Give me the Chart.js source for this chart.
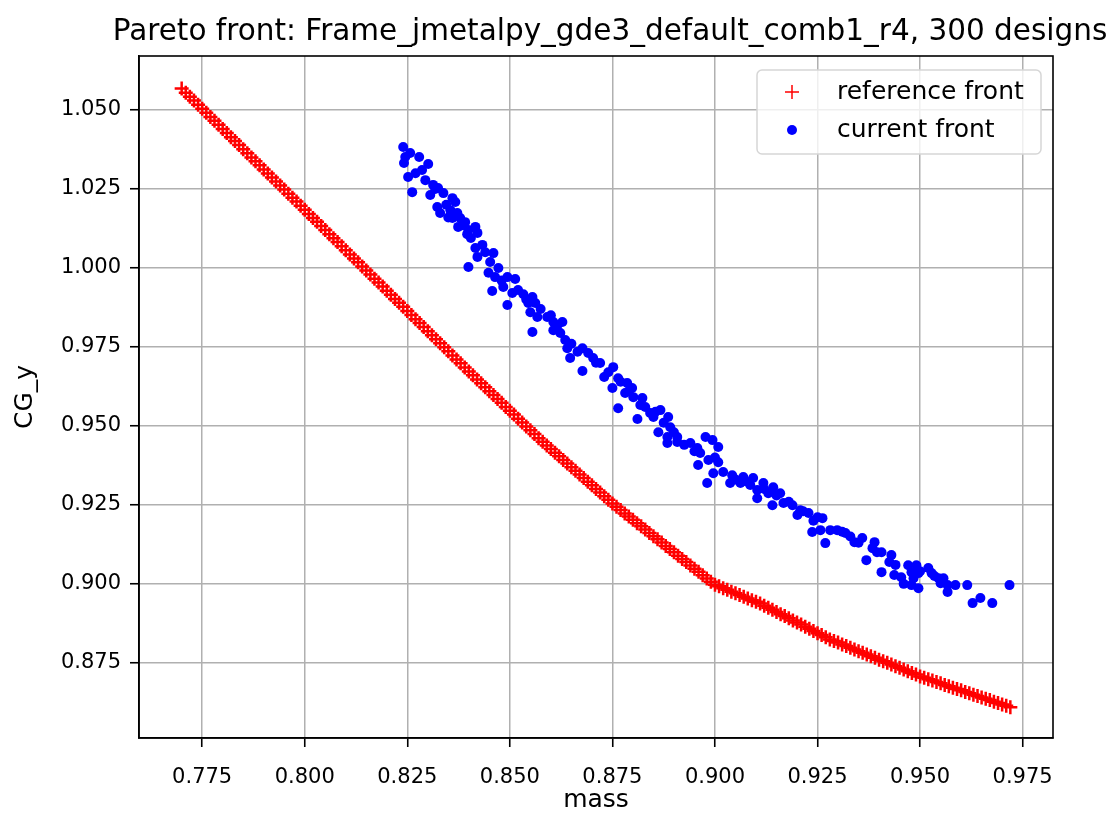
<!DOCTYPE html>
<html>
<head>
<meta charset="utf-8">
<title>Pareto front</title>
<script src="https://cdn.jsdelivr.net/npm/chart.js@4.4.1/dist/chart.umd.min.js"></script>
<style>
  html, body { margin: 0; padding: 0; background: #fff; }
</style>
</head>
<body>
<canvas id="paretoChart" width="1120" height="815"></canvas>
<script>
// labels
const chartTitle = 'Pareto front: Frame_jmetalpy_gde3_default_comb1_r4, 300 designs';
const seriesNames = ['reference front', 'current front'];
const xLabel = 'mass';
const yLabel = 'CG_y';

// axes
const xTickValues = [0.775, 0.800, 0.825, 0.850, 0.875, 0.900, 0.925, 0.950, 0.975];
const yTickValues = [0.875, 0.900, 0.925, 0.950, 0.975, 1.000, 1.025, 1.050];
const xRange = [0.7596, 0.9824];
const yRange = [0.8512, 1.0671];

// reference front: [mass, CG_y]
const referenceFront = [
  [0.770,1.0568],[0.771,1.0555],[0.772,1.0542],[0.773,1.0530],[0.774,1.0517],[0.775,1.0504],
  [0.776,1.0491],[0.777,1.0478],[0.778,1.0466],[0.779,1.0453],[0.780,1.0440],[0.781,1.0427],
  [0.782,1.0414],[0.783,1.0402],[0.784,1.0389],[0.785,1.0376],[0.786,1.0363],[0.787,1.0350],
  [0.788,1.0338],[0.789,1.0325],[0.790,1.0312],[0.791,1.0299],[0.792,1.0286],[0.793,1.0274],
  [0.794,1.0261],[0.795,1.0248],[0.796,1.0235],[0.797,1.0222],[0.798,1.0210],[0.799,1.0197],
  [0.800,1.0184],[0.801,1.0171],[0.802,1.0158],[0.803,1.0146],[0.804,1.0133],[0.805,1.0120],
  [0.806,1.0107],[0.807,1.0094],[0.808,1.0082],[0.809,1.0069],[0.810,1.0056],[0.811,1.0043],
  [0.812,1.0030],[0.813,1.0018],[0.814,1.0005],[0.815,0.9992],[0.816,0.9979],[0.817,0.9966],
  [0.818,0.9954],[0.819,0.9941],[0.820,0.9928],[0.821,0.9915],[0.822,0.9902],[0.823,0.9890],
  [0.824,0.9877],[0.825,0.9864],[0.826,0.9851],[0.827,0.9838],[0.828,0.9826],[0.829,0.9813],
  [0.830,0.9800],[0.831,0.9787],[0.832,0.9774],[0.833,0.9762],[0.834,0.9749],[0.835,0.9736],
  [0.836,0.9723],[0.837,0.9710],[0.838,0.9698],[0.839,0.9685],[0.840,0.9672],[0.841,0.9660],
  [0.842,0.9647],[0.843,0.9635],[0.844,0.9622],[0.845,0.9610],[0.846,0.9598],[0.847,0.9585],
  [0.848,0.9573],[0.849,0.9560],[0.850,0.9548],[0.851,0.9536],[0.852,0.9523],[0.853,0.9511],
  [0.854,0.9498],[0.855,0.9486],[0.856,0.9474],[0.857,0.9461],[0.858,0.9450],[0.859,0.9438],
  [0.860,0.9427],[0.861,0.9415],[0.862,0.9404],[0.863,0.9392],[0.864,0.9381],[0.865,0.9369],
  [0.866,0.9358],[0.867,0.9346],[0.868,0.9335],[0.869,0.9323],[0.870,0.9312],[0.871,0.9300],
  [0.872,0.9289],[0.873,0.9277],[0.874,0.9266],[0.875,0.9254],[0.876,0.9244],[0.877,0.9234],
  [0.878,0.9223],[0.879,0.9213],[0.880,0.9203],[0.881,0.9192],[0.882,0.9182],[0.883,0.9172],
  [0.884,0.9161],[0.885,0.9151],[0.886,0.9141],[0.887,0.9131],[0.888,0.9120],[0.889,0.9110],
  [0.890,0.9100],[0.891,0.9089],[0.892,0.9079],[0.893,0.9069],[0.894,0.9058],[0.895,0.9048],
  [0.896,0.9038],[0.897,0.9027],[0.898,0.9017],[0.899,0.9007],[0.900,0.8997],[0.901,0.8992],
  [0.902,0.8986],[0.903,0.8981],[0.904,0.8975],[0.905,0.8970],[0.906,0.8965],[0.907,0.8959],
  [0.908,0.8954],[0.909,0.8948],[0.910,0.8943],[0.911,0.8938],[0.912,0.8931],[0.913,0.8924],
  [0.914,0.8918],[0.915,0.8911],[0.916,0.8904],[0.917,0.8898],[0.918,0.8891],[0.919,0.8884],
  [0.920,0.8878],[0.921,0.8871],[0.922,0.8864],[0.923,0.8858],[0.924,0.8851],[0.925,0.8844],
  [0.926,0.8838],[0.927,0.8831],[0.928,0.8824],[0.929,0.8819],[0.930,0.8814],[0.931,0.8808],
  [0.932,0.8803],[0.933,0.8798],[0.934,0.8792],[0.935,0.8787],[0.936,0.8782],[0.937,0.8776],
  [0.938,0.8771],[0.939,0.8766],[0.940,0.8760],[0.941,0.8755],[0.942,0.8750],[0.943,0.8745],
  [0.944,0.8739],[0.945,0.8734],[0.946,0.8729],[0.947,0.8723],[0.948,0.8718],[0.949,0.8713],
  [0.950,0.8707],[0.951,0.8703],[0.952,0.8698],[0.953,0.8694],[0.954,0.8689],[0.955,0.8685],
  [0.956,0.8680],[0.957,0.8676],[0.958,0.8671],[0.959,0.8667],[0.960,0.8663],[0.961,0.8658],
  [0.962,0.8654],[0.963,0.8649],[0.964,0.8645],[0.965,0.8640],[0.966,0.8636],[0.967,0.8632],
  [0.968,0.8627],[0.969,0.8623],[0.970,0.8618],[0.971,0.8614],[0.972,0.8609]
];

// current front: [mass, CG_y]
const currentFront = [
  [0.8240,1.0383],[0.8257,1.0364],[0.8242,1.0332],[0.8252,1.0288],[0.8262,1.0240],[0.8245,1.0351],
  [0.8279,1.0351],[0.8301,1.0329],[0.8286,1.0310],[0.8294,1.0278],[0.8313,1.0263],[0.8306,1.0231],
  [0.8325,1.0253],[0.8338,1.0237],[0.8360,1.0221],[0.8367,1.0209],[0.8323,1.0193],[0.8330,1.0174],
  [0.8355,1.0183],[0.8372,1.0174],[0.8360,1.0158],[0.8379,1.0158],[0.8391,1.0145],[0.8374,1.0130],
  [0.8399,1.0120],[0.8416,1.0130],[0.8421,1.0111],[0.8396,1.0107],[0.8416,1.0063],[0.8433,1.0073],
  [0.8421,1.0035],[0.8399,1.0003],[0.8460,1.0047],[0.8452,1.0019],[0.8472,1.0000],[0.8464,0.9971],
  [0.8494,0.9971],[0.8513,0.9965],[0.8457,0.9927],[0.8484,0.9940],[0.8506,0.9921],[0.8494,0.9883],
  [0.8533,0.9917],[0.8555,0.9908],[0.8545,0.9889],[0.8562,0.9889],[0.8550,0.9860],[0.8567,0.9845],
  [0.8591,0.9845],[0.8606,0.9829],[0.8628,0.9829],[0.8555,0.9797],[0.8606,0.9803],[0.8623,0.9794],
  [0.8635,0.9772],[0.8640,0.9746],[0.8647,0.9715],[0.8677,0.9746],[0.8691,0.9731],[0.8703,0.9715],
  [0.8677,0.9674],[0.8720,0.9699],[0.8752,0.9686],[0.8730,0.9655],[0.8764,0.9651],[0.8786,0.9636],
  [0.8750,0.9620],[0.8798,0.9620],[0.8781,0.9604],[0.8801,0.9591],[0.8823,0.9588],[0.8818,0.9566],
  [0.8764,0.9556],[0.8842,0.9541],[0.8867,0.9550],[0.8811,0.9522],[0.8850,0.9528],[0.8886,0.9528],
  [0.8891,0.9496],[0.8862,0.9480],[0.8884,0.9465],[0.8908,0.9465],[0.8884,0.9446],[0.8908,0.9449],
  [0.8940,0.9446],[0.8977,0.9465],[0.8957,0.9430],[0.8994,0.9455],[0.9008,0.9433],[0.8964,0.9414],
  [0.8984,0.9392],[0.9008,0.9385],[0.8959,0.9376],[0.8996,0.9350],[0.9020,0.9354],[0.8981,0.9319],
  [0.9042,0.9344],[0.9037,0.9319],[0.9069,0.9338],[0.9093,0.9335],[0.9062,0.9319],[0.9086,0.9313],
  [0.9103,0.9297],[0.9118,0.9319],[0.9142,0.9306],[0.9103,0.9271],[0.9130,0.9287],[0.9159,0.9287],
  [0.9140,0.9249],[0.9167,0.9256],[0.9189,0.9249],[0.9208,0.9233],[0.9201,0.9218],[0.9228,0.9224],
  [0.9250,0.9211],[0.9262,0.9208],[0.9237,0.9164],[0.9257,0.9170],[0.9269,0.9129],[0.9281,0.9170],
  [0.9298,0.9170],[0.9318,0.9161],[0.9340,0.9132],[0.9359,0.9145],[0.9389,0.9132],[0.9384,0.9113],
  [0.9369,0.9075],[0.9406,0.9100],[0.9430,0.9091],[0.9425,0.9069],[0.9406,0.9037],[0.9437,0.9028],
  [0.9454,0.9021],[0.9471,0.9059],[0.9491,0.9059],[0.9479,0.9037],[0.9496,0.9034],[0.9484,0.9018],
  [0.9479,0.8996],[0.9496,0.8986],[0.9520,0.9050],[0.9528,0.9034],[0.9545,0.9018],[0.9557,0.9018],
  [0.9550,0.9002],[0.9567,0.8996],[0.9567,0.8974],[0.9586,0.8996],[0.9615,0.8996],[0.9628,0.8939],
  [0.9647,0.8955],[0.9676,0.8939],[0.9718,0.8996],
  [0.8270,1.0300],[0.8318,1.0250],[0.8345,1.0200],[0.8350,1.0160],[0.8385,1.0135],[0.8405,1.0095],
  [0.8440,1.0050],[0.8448,0.9985],[0.8480,0.9960],[0.8520,0.9930],[0.8540,0.9900],[0.8575,0.9870],
  [0.8600,0.9850],[0.8615,0.9815],[0.8650,0.9760],[0.8665,0.9735],[0.8710,0.9700],[0.8740,0.9670],
  [0.8770,0.9640],[0.8790,0.9610],[0.8830,0.9560],[0.8855,0.9545],[0.8875,0.9510],[0.8900,0.9480],
  [0.8925,0.9440],[0.8950,0.9420],[0.9000,0.9400],[0.9050,0.9330],[0.9075,0.9325],[0.9120,0.9300],
  [0.9150,0.9280],[0.9180,0.9260],[0.9215,0.9230],[0.9240,0.9200],[0.9310,0.9165],[0.9330,0.9150],
  [0.9350,0.9130],[0.9395,0.9100],[0.9440,0.9060],[0.9500,0.9040],[0.9535,0.9025],[0.9460,0.9000]
];

const toPoints = rows => rows.map(r => ({ x: r[0], y: r[1] }));
const fixedTicks = values => axis => { axis.ticks = values.map(v => ({ value: v })); };

// white background, box around the axes, title and legend
const axesDecor = {
  id: 'axesDecor',
  beforeDraw(chart) {
    const ctx = chart.ctx;
    ctx.save();
    ctx.fillStyle = '#fff';
    ctx.fillRect(0, 0, chart.width, chart.height);
    ctx.restore();
  },
  afterDraw(chart) {
    const { ctx, chartArea: a } = chart;
    ctx.save();
    ctx.strokeStyle = '#000';
    ctx.lineWidth = 1.6;
    ctx.strokeRect(a.left, a.top, a.right - a.left, a.bottom - a.top);

    ctx.fillStyle = '#000';
    ctx.font = '29.5px "DejaVu Sans"';
    ctx.textAlign = 'center';
    ctx.textBaseline = 'middle';
    ctx.fillText(chartTitle, 610, 32);

    // legend box, top right inside the axes
    const bx = a.right - 296, by = a.top + 14, bw = 284, bh = 84;
    ctx.beginPath();
    ctx.roundRect(bx, by, bw, bh, 5);
    ctx.fillStyle = 'rgba(255,255,255,0.8)';
    ctx.fill();
    ctx.strokeStyle = '#d6d6d6';
    ctx.lineWidth = 1.5;
    ctx.stroke();

    chart.data.datasets.forEach((ds, i) => {
      const ry = by + 22 + i * 38;
      ctx.strokeStyle = ds.borderColor;
      ctx.fillStyle = ds.backgroundColor;
      Chart.helpers.drawPoint(ctx, {
        pointStyle: ds.pointStyle,
        radius: ds.pointStyle === 'cross' ? 7 : 5,
        borderWidth: ds.pointStyle === 'cross' ? 2 : 0,
        rotation: 0
      }, bx + 35, ry);
      ctx.fillStyle = '#000';
      ctx.font = '25px "DejaVu Sans"';
      ctx.textAlign = 'left';
      ctx.fillText(ds.label, bx + 80, ry);
    });
    ctx.restore();
  }
};

const tickFont = { family: 'DejaVu Sans', size: 21 };
const labelFont = { family: 'DejaVu Sans', size: 25 };

new Chart(document.getElementById('paretoChart'), {
  type: 'scatter',
  data: {
    datasets: [
      {
        label: seriesNames[0],
        data: toPoints(referenceFront),
        pointStyle: 'cross',
        pointRadius: 7,
        pointBorderWidth: 2.5,
        borderColor: '#ff0000',
        backgroundColor: '#ff0000'
      },
      {
        label: seriesNames[1],
        data: toPoints(currentFront),
        pointStyle: 'circle',
        pointRadius: 5,
        pointBorderWidth: 0,
        borderColor: '#0000ff',
        backgroundColor: '#0000ff'
      }
    ]
  },
  options: {
    responsive: false,
    animation: false,
    devicePixelRatio: 1,
    layout: { padding: { top: 56, right: 67, left: 0, bottom: 0 } },
    plugins: {
      legend: { display: false },
      tooltip: { enabled: false }
    },
    scales: {
      x: {
        type: 'linear',
        min: xRange[0],
        max: xRange[1],
        afterBuildTicks: fixedTicks(xTickValues),
        afterFit: scale => { scale.height = 77; },
        grid: { color: '#b0b0b0', lineWidth: 1.5, tickColor: '#000', tickLength: 9, tickWidth: 1.6 },
        border: { color: '#000', width: 1.6 },
        ticks: { font: tickFont, color: '#000', padding: 18, maxRotation: 0,
                 callback: v => v.toFixed(3) },
        title: { display: true, text: xLabel, font: labelFont, color: '#000', padding: { top: 0, bottom: 0 } }
      },
      y: {
        type: 'linear',
        min: yRange[0],
        max: yRange[1],
        afterBuildTicks: fixedTicks(yTickValues),
        afterFit: scale => { scale.width = 139; },
        grid: { color: '#b0b0b0', lineWidth: 1.5, tickColor: '#000', tickLength: 9, tickWidth: 1.6 },
        border: { color: '#000', width: 1.6 },
        ticks: { font: tickFont, color: '#000', padding: 9,
                 callback: v => v.toFixed(3) },
        title: { display: true, text: yLabel, font: labelFont, color: '#000', padding: { top: 10, bottom: 0 } }
      }
    }
  },
  plugins: [axesDecor]
});
</script>
</body>
</html>
